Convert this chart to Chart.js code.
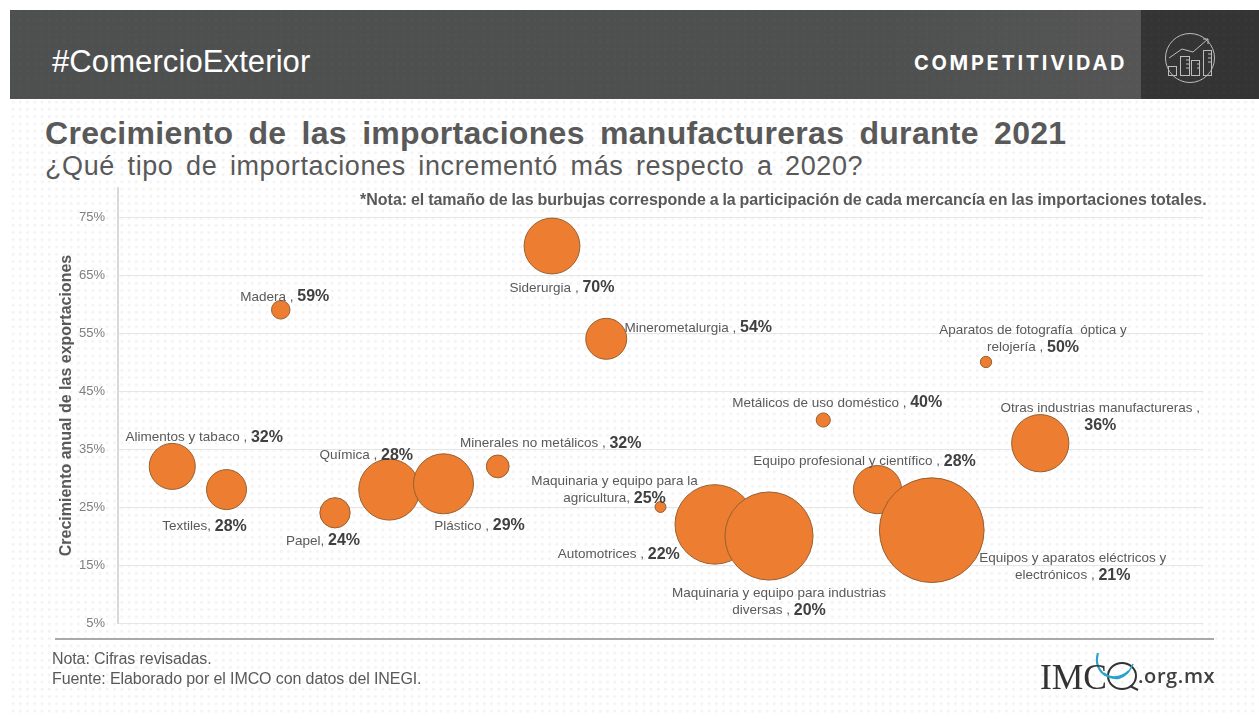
<!DOCTYPE html>
<html lang="es">
<head>
<meta charset="utf-8">
<title>Crecimiento de las importaciones manufactureras durante 2021</title>
<script src="https://cdn.jsdelivr.net/npm/chart.js@4/dist/chart.umd.min.js"></script>
<style>
    html, body { margin: 0; padding: 0; background: #fff; width: 1259px; height: 719px; overflow: hidden; }
    body { position: relative; font-family: "Liberation Sans", Arial, sans-serif; }
    .dots {
        position: absolute; left: 10px; top: 99px; width: 1249px; height: 616px;
        background-image: radial-gradient(circle at 3px 3px, #f3f3f3 1.2px, transparent 1.7px);
        background-size: 7.25px 7.25px;
    }
    .header {
        position: absolute; left: 10px; top: 10px; width: 1249px; height: 89px;
        background-image: radial-gradient(circle at 3px 3px, rgba(255,255,255,.02) 1.2px, transparent 1.7px),
            linear-gradient(90deg, #4e5050 0%, #4e5050 70%, #555 90%);
        background-size: 7.25px 7.25px, 100% 100%;
    }
    .header-dark {
        position: absolute; left: 1141px; top: 10px; width: 118px; height: 89px; background-color: #343434;
        background-image: radial-gradient(circle at 3px 3px, rgba(255,255,255,.02) 1.2px, transparent 1.7px);
        background-size: 7.25px 7.25px;
    }
    .txt { position: absolute; white-space: nowrap; }
    #chart { position: absolute; left: 0; top: 0; }
    .rule { position: absolute; left: 55px; top: 638px; width: 1159px; height: 2px; background: #a9a9a9; }
    svg { position: absolute; left: 0; top: 0; }
</style>
</head>
<body>
<div class="dots"></div>
<div class="header"></div>
<div class="header-dark"></div>
<div class="txt" style="left:52px;top:44px;font-size:31px;line-height:36px;letter-spacing:.1px;color:#fff;">#ComercioExterior</div>
<div class="txt" style="left:914px;top:51px;font-family:Inter,sans-serif;font-weight:700;font-size:20px;line-height:24px;letter-spacing:2.7px;color:#fff;">COMPETITIVIDAD</div>
<div class="txt" style="left:45px;top:115px;font-size:32px;line-height:36px;font-weight:700;letter-spacing:.3px;word-spacing:6px;color:#595959;">Crecimiento de las importaciones manufactureras durante 2021</div>
<div class="txt" style="left:45px;top:150px;font-size:27px;line-height:32px;letter-spacing:.6px;word-spacing:4.5px;color:#595959;">¿Qué tipo de importaciones incrementó más respecto a 2020?</div>

<canvas id="chart" width="1259" height="719"></canvas>

<div class="txt" style="left:360px;top:191px;font-size:16px;line-height:18px;font-weight:700;word-spacing:-.6px;color:#595959;">*Nota: el tamaño de las burbujas corresponde a la participación de cada mercancía en las importaciones totales.</div>
<div class="rule"></div>
<div class="txt" style="left:52px;top:650px;font-size:16px;line-height:18px;letter-spacing:-.1px;color:#595959;">Nota: Cifras revisadas.</div>
<div class="txt" style="left:52px;top:670px;font-size:16px;line-height:18px;letter-spacing:-.1px;color:#595959;">Fuente: Elaborado por el IMCO con datos del INEGI.</div>

<svg width="1259" height="719" fill="none">
    <!-- icono de competitividad -->
    <g stroke="#bcbcbc" stroke-width="1">
        <circle cx="1190" cy="58" r="24.5"/>
        <polyline points="1169,58 1182,49 1193,52 1208,39"/>
        <polyline points="1203,39 1208,39 1208,44"/>
        <rect x="1168.5" y="66.5" width="8" height="9"/>
        <rect x="1180.5" y="56.5" width="9" height="19"/>
        <rect x="1191.5" y="60.5" width="8" height="15"/>
        <rect x="1203.5" y="50.5" width="8" height="25"/>
        <path d="M1186 60h3M1186 64h3M1186 68h3M1197 64h3M1197 68h3M1208 54h3M1208 58h3M1208 62h3"/>
    </g>
    <!-- logo IMCO -->
    <ellipse cx="1122" cy="676" rx="14" ry="13" stroke="#333" stroke-width="2"/>
    <path d="M1130 686 L1138 690" stroke="#333" stroke-width="2"/>
    <path d="M1098 653 C1092 672 1112 686 1129 671" stroke="#29a3c9" stroke-width="2.2"/>
    <path d="M1104 673 C1114 682 1126 680 1133 664" stroke="#29a3c9" stroke-width="1.6"/>
    <text x="1040" y="689" font-family="Liberation Serif" font-size="36" fill="#333" textLength="67" lengthAdjust="spacingAndGlyphs">IMC</text>
    <text x="1138" y="683" font-family="Open Sans" font-weight="600" font-size="20" fill="#404040" letter-spacing="0.6">.org.mx</text>
</svg>

<script>
    // Datos
    const categories = ['Alimentos y tabaco', 'Textiles', 'Madera', 'Papel', 'Química', 'Plástico',
        'Minerales no metálicos', 'Siderurgia', 'Minerometalurgia', 'Maquinaria y equipo para la agricultura',
        'Automotrices', 'Maquinaria y equipo para industrias diversas', 'Metálicos de uso doméstico',
        'Equipo profesional y científico', 'Equipos y aparatos eléctricos y electrónicos',
        'Aparatos de fotografía óptica y relojería', 'Otras industrias manufactureras'];
    const growthValues = [32, 28, 59, 24, 28, 29, 32, 70, 54, 25, 22, 20, 40, 28, 21, 50, 36];
    const importShares = [5.3, 4.0, 0.86, 2.3, 9.3, 9.0, 1.3, 7.8, 4.2, 0.3, 15.8, 19.4, 0.5, 5.8, 27.4, 0.32, 8.2];
    const yTickValues = [5, 15, 25, 35, 45, 55, 65, 75];

    // Texto de cada etiqueta, el valor va al final de la ultima linea
    const labelLines = [
        ['Alimentos y tabaco ,'], ['Textiles,'], ['Madera ,'], ['Papel,'], ['Química ,'], ['Plástico ,'],
        ['Minerales no metálicos ,'], ['Siderurgia ,'], ['Minerometalurgia ,'],
        ['Maquinaria y equipo para la', 'agricultura,'], ['Automotrices ,'],
        ['Maquinaria y equipo para industrias', 'diversas ,'], ['Metálicos de uso doméstico ,'],
        ['Equipo profesional y científico ,'], ['Equipos y aparatos eléctricos y', 'electrónicos ,'],
        ['Aparatos de fotografía  óptica y', 'relojería ,'], ['Otras industrias manufactureras ,', '']
    ];

    // Desplazamiento de cada etiqueta respecto a su burbuja
    const labelOffsets = [
        [32, -30], [-22, 36], [4, -14], [-12, 27], [-23, -35], [36, 41], [53, -24], [10, 41], [92, -12],
        [-46, -27], [-96, 29], [10, 56], [14, -18], [-13, -29], [141, 27], [47, -33], [60, -36]
    ];

    const normalFont = '13.5px "Liberation Sans"';
    const boldFont = 'bold 16px "Liberation Sans"';

    const labelsPlugin = {
        id: 'bubbleLabels',
        afterDatasetsDraw(chart) {
            const ctx = chart.ctx;
            const points = chart.getDatasetMeta(0).data;
            ctx.save();
            ctx.textBaseline = 'middle';
            ctx.textAlign = 'left';
            points.forEach((point, i) => {
                const lines = labelLines[i];
                lines.forEach((line, n) => {
                    const isLast = n === lines.length - 1;
                    const value = isLast ? growthValues[i] + '%' : '';
                    const gap = isLast && line ? ' ' : '';
                    ctx.font = normalFont;
                    const lineWidth = ctx.measureText(line + gap).width;
                    ctx.font = boldFont;
                    const valueWidth = value ? ctx.measureText(value).width : 0;
                    const x = point.x + labelOffsets[i][0] - (lineWidth + valueWidth) / 2;
                    const y = point.y + labelOffsets[i][1] + n * 17.5 + 1;
                    if (line) {
                        ctx.font = normalFont;
                        ctx.fillStyle = '#595959';
                        ctx.fillText(line, x, y);
                    }
                    if (value) {
                        ctx.font = boldFont;
                        ctx.fillStyle = '#404040';
                        ctx.fillText(value, x + lineWidth, y);
                    }
                });
            });
            ctx.restore();
        }
    };

    new Chart(document.getElementById('chart'), {
        type: 'bubble',
        data: {
            datasets: [{
                label: 'Crecimiento anual',
                data: categories.map((name, i) => ({
                    x: i + 1,
                    y: growthValues[i],
                    r: Math.sqrt(importShares[i]) * 10
                })),
                backgroundColor: '#ed7d31',
                borderColor: '#96602f',
                borderWidth: 1,
                clip: false
            }]
        },
        options: {
            responsive: false,
            animation: false,
            layout: { padding: { left: 50, right: 56, top: 188, bottom: 96 } },
            plugins: { legend: { display: false }, tooltip: { enabled: false } },
            scales: {
                x: { type: 'linear', display: false, min: 0, max: 20 },
                y: {
                    type: 'linear',
                    min: 5,
                    max: 80,
                    afterFit: scale => { scale.width = 68; },
                    afterBuildTicks: scale => { scale.ticks = yTickValues.map(v => ({ value: v })); },
                    grid: { color: '#e6e6e6', lineWidth: 1, drawTicks: false },
                    border: { color: '#d9d9d9', width: 2 },
                    ticks: {
                        padding: 13,
                        color: '#7f7f7f',
                        font: { family: '"Liberation Sans"', size: 13 },
                        callback: value => value + '%'
                    },
                    title: {
                        display: true,
                        text: 'Crecimiento anual de las exportaciones',
                        color: '#595959',
                        font: { family: '"Liberation Sans"', size: 16, weight: 'bold' },
                        padding: { top: 7, bottom: 0 }
                    }
                }
            }
        },
        plugins: [labelsPlugin]
    });
</script>
</body>
</html>
